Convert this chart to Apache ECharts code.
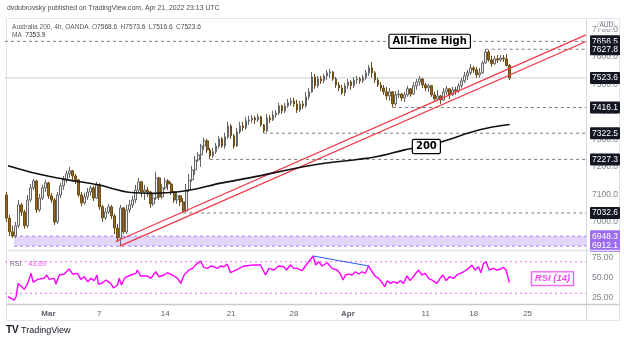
<!DOCTYPE html>
<html><head><meta charset="utf-8">
<script src="https://cdn.jsdelivr.net/npm/echarts@6/dist/echarts.min.js"></script>
<style>html,body{margin:0;padding:0;background:#fff}#c{width:624px;height:341px}</style>
</head><body><div id="c"></div>
<script>
// ---------- DATA ----------
const firstOpen = 7098;
const closes = [
7014,6964,6949,6986,7062,7036,6986,7080,7124,7149,
7044,7087,7124,7142,7095,7080,7000,7098,7131,7153,
7175,7186,7167,7153,7098,7069,7091,7109,7124,7087,
7135,7055,7015,7036,7055,7022,6978,6942,7051,6964,
7044,7062,7080,7116,7146,7109,7116,7109,7066,7087,
7160,7091,7124,7149,7138,7109,7080,7095,7073,7040,
7116,7153,7189,7225,7244,7276,7295,7262,7240,7255,
7276,7302,7276,7309,7349,7313,7276,7327,7349,7342,
7367,7371,7378,7371,7382,7353,7331,7378,7371,7389,
7396,7422,7404,7422,7433,7440,7429,7407,7429,7422,
7455,7473,7527,7495,7520,7513,7531,7542,7545,7520,
7498,7487,7469,7495,7509,7495,7516,7520,7513,7524,
7542,7560,7542,7516,7498,7487,7473,7458,7473,7429,
7462,7465,7451,7462,7484,7465,7495,7509,7520,7498,
7487,7495,7462,7447,7458,7444,7473,7484,7462,7480,
7476,7495,7513,7531,7542,7560,7553,7535,7542,7578,
7618,7589,7575,7593,7589,7596,7593,7568.6,7523.6
];
const highs = [
7109,7026,6986,7000,7080,7069,7044,7098,7138,7156,
7153,7102,7135,7153,7146,7106,7087,7109,7142,7167,
7186,7200,7189,7175,7156,7109,7106,7124,7131,7131,
7146,7142,7062,7051,7066,7062,7029,6993,7062,7055,
7062,7080,7095,7135,7160,7149,7135,7127,7113,7102,
7182,7164,7138,7160,7156,7146,7113,7109,7098,7087,
7138,7175,7204,7240,7255,7284,7306,7302,7269,7269,
7287,7313,7309,7324,7364,7356,7320,7342,7364,7364,
7382,7386,7389,7386,7393,7386,7356,7393,7389,7404,
7407,7433,7426,7433,7447,7451,7451,7444,7440,7440,
7473,7487,7545,7538,7531,7531,7538,7553,7556,7549,
7527,7509,7498,7505,7520,7516,7527,7531,7527,7535,
7553,7571,7582,7549,7524,7509,7498,7491,7487,7476,
7476,7480,7469,7473,7495,7487,7509,7520,7531,7524,
7505,7502,7498,7473,7480,7462,7487,7495,7487,7491,
7491,7505,7524,7545,7553,7574,7567,7564,7560,7585,
7627.8,7625,7604,7604,7607,7607,7607,7611,7573.6
];
const lows = [
7000,6949,6942,6942,6978,7022,6975,6978,7073,7116,
7033,7036,7080,7109,7084,7069,6989,6993,7087,7116,
7142,7160,7153,7138,7091,7058,7062,7080,7095,7076,
7084,7044,7000,7007,7029,7011,6956,6927,6912.1,6956,
6956,7033,7051,7069,7109,7091,7080,7091,7051,7058,
7080,7080,7084,7116,7116,7098,7069,7066,7058,7032.6,
7036,7109,7146,7171,7218,7200,7262,7251,7227.3,7233,
7247,7266,7269,7266,7302,7302,7266,7273,7320,7331,
7335,7353,7360,7356,7364,7346,7322.5,7327,7360,7367,
7378,7389,7393,7396,7415,7422,7418,7396,7400,7411,
7415,7444,7469,7484,7487,7502,7505,7516,7524,7513,
7487,7476,7462,7458,7484,7480,7487,7502,7502,7505,
7516,7531,7524,7505,7491,7476,7462,7444,7440,7416.1,
7422,7451,7440,7436,7455,7455,7462,7480,7495,7487,
7476,7473,7455,7436,7440,7429,7440,7462,7447,7458,
7462,7469,7487,7505,7516,7535,7542,7524,7524,7538,
7575,7582,7564,7571,7578,7582,7582,7566,7516.6
];
// 200-period moving average [barIndex, price]
const maPoints = [[0.5,7204],[9.2,7178],[20.5,7153],[30.5,7135],[41.5,7107],[49.2,7104],[60.5,7114],[71.5,7141],[81.5,7161],[102.5,7207],[123,7236],[133,7262],[143.8,7287],[158,7335],[168,7354]];
// RSI(14) points [barIndex, value]
const rsiPoints = [[0.4,25.7],[1.5,23.7],[2.6,21.5],[3.2,25.7],[3.9,42.6],[4.8,39.2],[5.9,35],[7.1,42.6],[8.2,55.3],[8.9,44],[10.4,47.7],[12.6,49],[13.4,53.2],[14.3,47.7],[15.9,49],[16.5,41.8],[17.6,53.2],[19.3,54.4],[20.9,60.8],[22.1,54.4],[23.7,55.3],[24.8,47.7],[25.9,51],[27.1,44.7],[28.2,49],[29.3,46],[30.2,53.2],[30.7,41.4],[32.1,43.4],[33.2,46.8],[34.8,42.6],[35.7,37],[37.1,40.5],[37.6,49],[38.4,40.5],[39.5,49.7],[41.5,53.2],[43.2,55.3],[43.7,59.5],[44.8,51.9],[47.1,51.9],[48.2,49],[49.8,57.3],[50.9,51],[52.6,53.2],[53.7,56.1],[55.4,53.2],[57.1,49],[58.2,42.6],[59.3,53.2],[60.9,59.5],[62.1,61.6],[63.7,68],[64.8,70.9],[65.4,70],[65.9,62.9],[67.1,61.6],[68.2,64.6],[69.3,63.7],[70.4,61.6],[71.5,64.6],[72.6,63.7],[73.7,67],[74.8,56.1],[77.1,60.4],[79.3,64.6],[82.6,65.8],[84.8,65.8],[86.5,53.2],[87.6,61.6],[89.3,59.5],[90.9,64.6],[92.6,63.7],[93.5,59.5],[94.8,65.8],[95.9,61.6],[97.1,61.6],[98.7,58.6],[99.8,64.6],[100.9,70],[102.4,77.2],[103.2,65.8],[104.3,70],[105.4,64.6],[107.1,68.7],[108.7,61.6],[110.4,59.5],[111.5,54.4],[112.4,46.8],[113.2,53.2],[114.3,54.4],[115.4,53.2],[116.5,57.3],[117.6,54.4],[118.7,57.3],[119.8,55.3],[120.9,64.6],[122.1,57.3],[123.2,51],[124.3,49],[125.4,43.4],[126.3,38.4],[127.1,46],[128.2,42.6],[129.3,44.7],[130.4,42.6],[131.5,46],[132.6,42.6],[133.7,51.9],[134.8,46],[136.5,54.4],[137.6,59.5],[138.7,53.2],[139.8,55.3],[140.9,49],[142.1,46.8],[143.7,42.6],[144.8,49],[145.7,53.2],[146.8,46],[147.9,51],[149.3,49],[150.4,53.2],[151.5,55.3],[152.6,57.3],[154.3,61.6],[155.4,65.8],[156.5,59.5],[157.6,63.7],[158.4,56.1],[159.3,68],[160.1,70],[161.2,59.5],[162.6,61.6],[163.7,59.5],[164.8,60.4],[165.9,62.9],[166.8,59.5],[167.9,43.69]];
const rsiDivergence = [[102.4,77.2],[121,64.6]];
const rsiBands = [70, 30];
const rsiLast = 43.69;
const maLast = 7353.9;
// horizontal levels and the bar they start from
const levels = [7656.5, 7627.8, 7523.6, 7416.1, 7322.5, 7227.3, 7032.6];
const levelStart = [-0.5, 160, -0.5, 129, 86, 68, 59];
const zone = [6948.3, 6912.1];
const zoneStart = 2.5;
// rising channel [barIndex, price]
const channelUpper = [[36.5, 6929], [193.5, 7680]];
const channelLower = [[37.8, 6912], [193.5, 7656]];
// axis ticks
const priceTicks = [7000, 7100, 7200, 7300, 7400, 7500, 7600, 7700];
const rsiTicks = [25, 50, 75];
const dateTickIdx = [14, 31, 53, 75, 96, 114, 140, 156, 174];
const dateTickText = ['Mar', '7', '14', '21', '28', 'Apr', '11', '18', '25'];
const ohlcLast = {o: 7568.6, h: 7573.6, l: 7516.6, c: 7523.6};
const N = 194; // category slots incl. right margin

// ---------- BUILD ----------
const FONT = 'Liberation Sans, Arial, sans-serif';
const cats = Array.from({length: N}, (_, i) => String(i));
const candle = closes.map((c, i) => [i === 0 ? firstOpen : closes[i - 1], c, lows[i], highs[i]]);
const XMAX = N - 0.5;

const series = [];
series.push({
  type: 'candlestick', xAxisIndex: 0, yAxisIndex: 0, data: candle, barWidth: 2.2,
  itemStyle: {color: '#f2f2f2', color0: '#946a22', borderColor: '#666666', borderColor0: '#6f4c12', borderWidth: 1},
  z: 3
});
levels.forEach((v, k) => {
  const solid = v === ohlcLast.c;
  series.push({
    type: 'line', xAxisIndex: 1, yAxisIndex: 0, symbol: 'none', silent: true, z: 2,
    data: [[levelStart[k], v], [XMAX, v]],
    lineStyle: {color: solid ? '#cfcfcf' : '#7d7d7d', width: 1, type: solid ? 'solid' : [3, 3]},
    endLabel: {show: true, formatter: v.toFixed(1), color: '#fff', backgroundColor: '#131722',
      fontSize: 8.5, fontFamily: FONT, padding: [2, 2, 1, 2], distance: 4, borderRadius: 1}
  });
});
zone.forEach((v, k) => {
  const s = {
    type: 'line', xAxisIndex: 1, yAxisIndex: 0, symbol: 'none', silent: true, z: 1,
    data: [[zoneStart, v], [XMAX, v]],
    lineStyle: {color: '#9d7ef0', width: 1, type: [3, 3]},
    endLabel: {show: true, formatter: v.toFixed(1), color: '#fff', backgroundColor: '#9d6cf0',
      fontSize: 8.5, fontFamily: FONT, padding: [2, 2, 1, 2], distance: 4, borderRadius: 1}
  };
  if (k === 0) s.markArea = {silent: true, itemStyle: {color: 'rgba(160,120,240,0.3)'},
    data: [[{coord: [zoneStart, zone[0]]}, {coord: [XMAX, zone[1]]}]]};
  series.push(s);
});
[channelUpper, channelLower].forEach(d => series.push({
  type: 'line', xAxisIndex: 1, yAxisIndex: 0, symbol: 'none', silent: true, z: 4,
  data: d, lineStyle: {color: '#f23645', width: 1.2}
}));
series.push({
  type: 'line', xAxisIndex: 1, yAxisIndex: 0, symbol: 'none', silent: true, z: 4, smooth: 0.35,
  data: maPoints, lineStyle: {color: '#111', width: 1.6}
});
series.push({
  type: 'scatter', xAxisIndex: 1, yAxisIndex: 0, symbolSize: 0, z: 6, silent: true,
  data: [{value: [141.3, 7656.5], name: 'All-Time High'}, {value: [140.2, 7274], name: '200'}],
  label: {show: true, position: 'inside', formatter: p => p.name, color: '#000', opacity: 1, fontWeight: 'bold',
    fontFamily: 'DejaVu Sans, sans-serif', fontSize: 10, backgroundColor: '#ffffff', borderColor: '#000',
    borderWidth: 1.2, padding: [2, 3, 1, 3], borderRadius: 1}
});
series.push({
  type: 'line', xAxisIndex: 3, yAxisIndex: 1, symbol: 'none', data: rsiPoints,
  lineStyle: {color: '#ff00ff', width: 1.4}, z: 4
});
series.push({
  type: 'line', xAxisIndex: 3, yAxisIndex: 1, symbol: 'none', data: rsiDivergence,
  lineStyle: {color: '#2962ff', width: 1.2}, z: 5
});
rsiBands.forEach(b => series.push({
  type: 'line', xAxisIndex: 3, yAxisIndex: 1, symbol: 'none', silent: true, z: 2,
  data: [[-0.5, b], [XMAX, b]], lineStyle: {color: '#f26cf2', width: 1, type: [2, 3]}
}));
series.push({
  type: 'scatter', xAxisIndex: 3, yAxisIndex: 1, symbolSize: 0, z: 6, silent: true,
  data: [{value: [182.3, 48.5], name: 'RSI (14)'}],
  label: {show: true, position: 'inside', formatter: p => p.name, color: '#f01cf0', fontStyle: 'italic',
    fontWeight: 'bold', fontFamily: FONT, fontSize: 9.5, backgroundColor: '#fff', borderColor: '#f01cf0',
    borderWidth: 1, padding: [2, 3, 1, 3]}
});

const option = {
  animation: false,
  backgroundColor: '#fff',
  grid: [
    {left: 5, top: 17, width: 581, height: 233, containLabel: false, outerBoundsMode: 'none'},
    {left: 5, top: 252, width: 581, height: 52, containLabel: false, outerBoundsMode: 'none'}
  ],
  xAxis: [
    {type: 'category', gridIndex: 0, data: cats, show: false},
    {type: 'value', gridIndex: 0, min: -0.5, max: XMAX, show: false},
    {type: 'category', gridIndex: 1, data: cats, axisTick: {show: false},
      axisLine: {show: false},
      axisLabel: {margin: 6, fontSize: 8, fontFamily: FONT, color: '#5d606b',
        interval: (idx) => dateTickIdx.includes(idx),
        formatter: (v) => {
          const t = dateTickText[dateTickIdx.indexOf(Number(v))];
          return /^[A-Z]/.test(t) ? '{m|' + t + '}' : t;
        },
        rich: {m: {fontWeight: 'bold', fontSize: 8, fontFamily: FONT, color: '#5d606b'}}
      }},
    {type: 'value', gridIndex: 1, min: -0.5, max: XMAX, show: false}
  ],
  yAxis: [
    {type: 'value', gridIndex: 0, position: 'right', min: 6898, max: 7745, scale: true,
      splitLine: {show: false}, axisLine: {show: false}, axisTick: {show: false},
      axisLabel: {customValues: priceTicks, margin: 6, fontSize: 8.5, fontFamily: FONT, color: '#80838d',
        formatter: v => v.toFixed(1)}},
    {type: 'value', gridIndex: 1, position: 'right', min: 16.5, max: 82.3,
      splitLine: {show: false}, axisLine: {show: false}, axisTick: {show: false},
      axisLabel: {customValues: rsiTicks, margin: 6, fontSize: 8.5, fontFamily: FONT, color: '#80838d',
        formatter: v => v.toFixed(2)}}
  ],
  graphic: [
    {type: 'rect', shape: {x: 6.5, y: 18.5, width: 613, height: 302}, style: {fill: 'none', stroke: '#e0e3eb'}, z: 0},
    {type: 'line', shape: {x1: 586.5, y1: 18.5, x2: 586.5, y2: 320.5}, style: {stroke: '#d6d8de'}, z: 10},
    {type: 'line', shape: {x1: 6.5, y1: 250.5, x2: 619.5, y2: 250.5}, style: {stroke: '#e0e3eb', lineWidth: 1.5}, z: 10},
    {type: 'line', shape: {x1: 6.5, y1: 304.5, x2: 619.5, y2: 304.5}, style: {stroke: '#c9ccd4', lineWidth: 1.5}, z: 10},
    {type: 'text', left: 7, top: 5, style: {text: 'dvdubrovsky published on TradingView.com, Apr 21, 2022 23:13 UTC',
      font: '6.9px ' + FONT, fill: '#4a4a4a'}},
    {type: 'text', left: 12, top: 21, style: {
      text: '{n|Australia 200, 4h, OANDA} {k|O}{v|' + ohlcLast.o.toFixed(1) + '} {k|H}{v|' + ohlcLast.h.toFixed(1) +
        '} {k|L}{v|' + ohlcLast.l.toFixed(1) + '} {k|C}{v|' + ohlcLast.c.toFixed(1) + '}',
      rich: {n: {font: '6.6px ' + FONT, fill: '#5a5d66'}, k: {font: '6.6px ' + FONT, fill: '#5a5d66'},
        v: {font: '6.6px ' + FONT, fill: '#4a4a4a'}}}},
    {type: 'text', left: 12, top: 29, style: {text: '{n|MA} {v|' + maLast.toFixed(1) + '}',
      rich: {n: {font: '6.6px ' + FONT, fill: '#5a5d66'}, v: {font: '6.6px ' + FONT, fill: '#333'}}}},
    {type: 'text', left: 10, top: 258, style: {text: '{n|RSI}  {v|' + rsiLast.toFixed(2) + '}',
      rich: {n: {font: '7px ' + FONT, fill: '#6a6d78'}, v: {font: '7px ' + FONT, fill: '#f04cf0'}}}, z: 20},
    {type: 'group', left: 597, top: 21, z: 100, children: [
      {type: 'rect', z: 100, shape: {x: 0, y: 0, width: 17, height: 8, r: 3}, style: {fill: '#fff', stroke: '#c9ccd4'}},
      {type: 'text', z: 101, x: 2, y: 0.5, style: {text: 'AUD', font: '6.5px ' + FONT, fill: '#6a6d78'}}
    ]},
    {type: 'text', left: 6, top: 325, style: {text: 'TV', font: 'bold 10px ' + FONT, fill: '#131722'}},
    {type: 'text', left: 21, top: 326, style: {text: 'TradingView', font: '9px ' + FONT, fill: '#131722'}}
  ],
  series: series
};
const chart = echarts.init(document.getElementById('c'));
chart.setOption(option);
</script>
</body></html>
